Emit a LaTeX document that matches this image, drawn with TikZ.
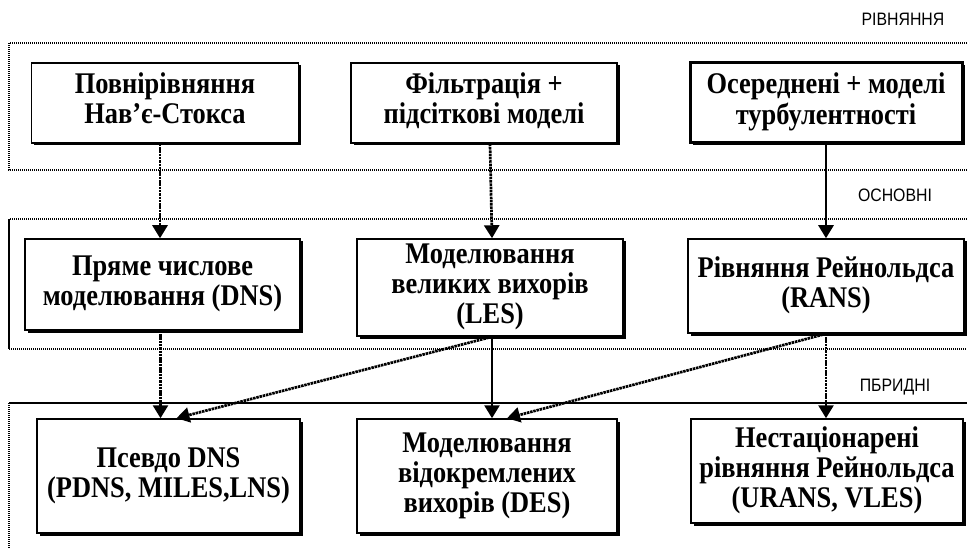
\documentclass[tikz,border=0pt]{standalone}
\usepackage{fontspec}
\usepackage{graphicx}
\setmainfont{Liberation Serif}
\setsansfont{Liberation Sans}
\usetikzlibrary{arrows.meta,shadows}
\newcommand{\btxt}[1]{\scalebox{0.88}[1]{\begin{tabular}{@{}c@{}}#1\end{tabular}}}
\newcommand{\ltxt}[1]{\scalebox{0.88}[1]{#1}}
\begin{document}
\begin{tikzpicture}[x=1pt,y=-1pt,
  box/.style={draw, fill=white, line width=1.5pt, align=center, inner sep=0pt,
    font=\bfseries\fontsize{30}{30}\selectfont,
    drop shadow={shadow xshift=2.5pt, shadow yshift=-2.5pt, fill=black, opacity=1}},
  thickbox/.style={box, line width=3pt},
  arr/.style={line width=2.7pt, -{Triangle[width=15pt,length=13pt]}},
  darr/.style={arr, dash pattern=on 2.5pt off 0.8pt},
  region/.style={line width=1.6pt, dash pattern=on 1pt off 1pt},
  rline/.style={line width=1.3pt},
  lab/.style={font=\sffamily\fontsize{18}{20}\selectfont, inner sep=0pt}]
\useasboundingbox (0,0) rectangle (967,548);
\fill[white] (0,0) rectangle (967,548);
% regions
\draw[region] (975,43) -- (9,43) -- (9,170) -- (975,170);
\draw[region] (975,219) -- (9,219);
\draw[rline] (9,219) -- (9,349);
\draw[region] (9,349) -- (975,349);
\draw[rline] (975,403) -- (9,403);
\draw[region] (9,403) -- (9,555);
% labels
\node[lab] (l1) at (903,19) {\ltxt{РІВНЯННЯ}};
\node[lab] (l2) at (895,195) {\ltxt{ОСНОВНІ}};
\node[lab] (l3) at (895,387) {\ltxt{ПБРИДНІ}};
% boxes
\node[box, minimum width=267pt, minimum height=80pt] (B1) at (165,103) {\btxt{Повнірівняння\\Нав'є-Стокса}};
\node[box, minimum width=266pt, minimum height=80pt] (B2) at (484,103) {\btxt{Фільтрація +\\підсіткові моделі}};
\node[thickbox, minimum width=272pt, minimum height=80pt] (B3) at (826,103) {\btxt{Осереднені + моделі\\турбулентності}};
\node[box, minimum width=275pt, minimum height=91pt] (B4) at (162.5,284.5) {\btxt{Пряме числове\\моделювання (DNS)}};
\node[box, minimum width=266pt, minimum height=97pt] (B5) at (490,287.5) {\btxt{Моделювання\\великих вихорів\\(LES)}};
\node[box, minimum width=276pt, minimum height=94pt] (B6) at (826,286) {\btxt{Рівняння Рейнольдса\\(RANS)}};
\node[box, minimum width=263pt, minimum height=114pt] (B7) at (168.5,476) {\btxt{Псевдо DNS\\(PDNS, MILES,LNS)}};
\node[box, minimum width=260pt, minimum height=114pt] (B8) at (487,476) {\btxt{Моделювання\\відокремлених\\вихорів (DES)}};
\node[box, minimum width=272pt, minimum height=104pt] (B9) at (827,471) {\btxt{Нестаціонарені\\рівняння Рейнольдса\\(URANS, VLES)}};
% arrows
\draw[darr] ([xshift=-5pt]B1.south) -- ([xshift=-5pt]B1.south |- B4.north);
\draw[darr] ([xshift=6pt]B2.south) -- ([xshift=2pt]B5.north);
\draw[arr] (B3.south) -- (B6.north);
\draw[darr] ([xshift=-2pt]B4.south) -- ([xshift=-2pt]B4.south |- B7.north);
\draw[arr] ([xshift=2pt]B5.south) -- ([xshift=2pt]B5.south |- B8.north);
\draw[darr] (B6.south) -- (B6.south |- B9.north);
\draw[darr] ([xshift=2pt]B5.south) -- ([xshift=8pt]B7.north);
\draw[darr] (B6.south) -- ([xshift=20pt]B8.north);
\end{tikzpicture}
\end{document}
